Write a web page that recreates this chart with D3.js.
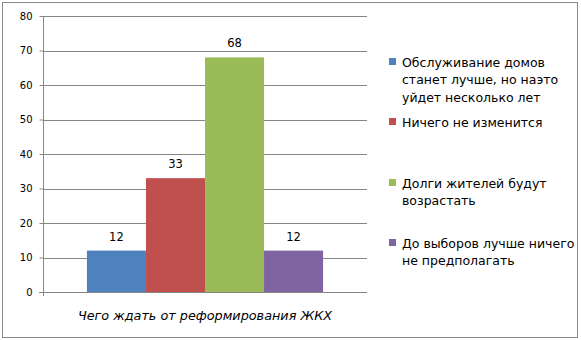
<!DOCTYPE html>
<html>
<head>
<meta charset="utf-8">
<script src="https://cdn.jsdelivr.net/npm/d3@7"></script>
<style>
  body { margin: 0; background: #fff; }
  text { font-family: "DejaVu Sans", Verdana, sans-serif; fill: #000; }
</style>
</head>
<body>
<script>
const categories = ['Чего ждать от реформирования ЖКХ']
const seriesNames = [
  'Обслуживание домов станет лучше, но наэто уйдет несколько лет',
  'Ничего не изменится',
  'Долги жителей будут возрастать',
  'До выборов лучше ничего не предполагать'
]
const legendLines = [
  ['Обслуживание домов', 'станет лучше, но наэто', 'уйдет несколько лет'],
  ['Ничего не изменится'],
  ['Долги жителей будут', 'возрастать'],
  ['До выборов лучше ничего', 'не предполагать']
]
const values = [12, 33, 68, 12]
const colors = ['#4f81bd', '#c0504d', '#9bbb59', '#8064a2']
const yTicks = [0, 10, 20, 30, 40, 50, 60, 70, 80]

const width = 581
const height = 340
const margin = { left: 43, right: 214, top: 16, bottom: 48 }

const svg = d3.select('body')
  .append('svg')
  .attr('width', width)
  .attr('height', height)

// outer frame
svg.append('rect')
  .attr('x', 2.5)
  .attr('y', 2.5)
  .attr('width', 575)
  .attr('height', 335)
  .attr('fill', '#fff')
  .attr('stroke', '#8a8a8a')
  .attr('stroke-width', 1)

const y = d3.scaleLinear()
  .domain([0, 80])
  .range([height - margin.bottom, margin.top])

const x0 = d3.scaleBand()
  .domain(categories)
  .range([margin.left, width - margin.right])
  .paddingInner(0)
  .paddingOuter(0.186)

const x1 = d3.scaleBand()
  .domain(seriesNames)
  .range([0, x0.bandwidth()])

// gridlines
svg.append('g')
  .selectAll('line')
  .data(yTicks.filter(d => d > 0))
  .enter()
  .append('line')
  .attr('x1', margin.left)
  .attr('x2', width - margin.right)
  .attr('y1', d => Math.round(y(d)) + 0.5)
  .attr('y2', d => Math.round(y(d)) + 0.5)
  .attr('stroke', '#868686')

// y axis
const yAxis = svg.append('g')
  .attr('transform', `translate(${margin.left + 0.5},0)`)
  .call(d3.axisLeft(y).tickValues(yTicks).tickSize(4).tickPadding(7))

yAxis.select('.domain').attr('stroke', '#868686').attr('d', `M0,${y(80)}V${y(0)}`)
yAxis.selectAll('.tick line').attr('stroke', '#868686')
yAxis.selectAll('.tick text').style('font-size', '10px')

// bars
const group = svg.append('g')
  .selectAll('g')
  .data(categories)
  .enter()
  .append('g')
  .attr('transform', d => `translate(${x0(d)},0)`)

group.selectAll('rect')
  .data(seriesNames.map((s, i) => ({ s, v: values[i], c: colors[i] })))
  .enter()
  .append('rect')
  .attr('x', d => x1(d.s))
  .attr('width', x1.bandwidth())
  .attr('y', d => y(d.v))
  .attr('height', d => y(0) - y(d.v))
  .attr('fill', d => d.c)

group.selectAll('text')
  .data(seriesNames.map((s, i) => ({ s, v: values[i] })))
  .enter()
  .append('text')
  .attr('x', d => x1(d.s) + x1.bandwidth() / 2)
  .attr('y', d => y(d.v) - 10)
  .attr('text-anchor', 'middle')
  .style('font-size', '11.5px')
  .text(d => d.v)

// x axis line
svg.append('line')
  .attr('x1', margin.left - 4)
  .attr('x2', width - margin.right)
  .attr('y1', Math.round(y(0)) + 0.5)
  .attr('y2', Math.round(y(0)) + 0.5)
  .attr('stroke', '#868686')

svg.append('line')
  .attr('x1', margin.left + 0.5)
  .attr('x2', margin.left + 0.5)
  .attr('y1', y(0))
  .attr('y2', y(0) + 4)
  .attr('stroke', '#868686')

// category label
svg.append('g')
  .selectAll('text')
  .data(categories)
  .enter()
  .append('text')
  .attr('x', d => x0(d) + x0.bandwidth() / 2)
  .attr('y', y(0) + 28)
  .attr('text-anchor', 'middle')
  .style('font-size', '12.8px')
  .style('font-style', 'italic')
  .text(d => d)

// legend
const legendY = [62, 122, 183, 243]
const legend = svg.append('g')
  .selectAll('g')
  .data(legendLines)
  .enter()
  .append('g')
  .attr('transform', (d, i) => `translate(389,${legendY[i]})`)

legend.append('rect')
  .attr('x', 0)
  .attr('y', -4)
  .attr('width', 7)
  .attr('height', 7)
  .attr('fill', (d, i) => colors[i])

legend.each(function (lines) {
  d3.select(this).selectAll('text')
    .data(lines)
    .enter()
    .append('text')
    .attr('x', 13)
    .attr('y', (d, j) => j * 17.5 + 4.5)
    .style('font-size', '12.5px')
    .text(d => d)
})
</script>
</body>
</html>
